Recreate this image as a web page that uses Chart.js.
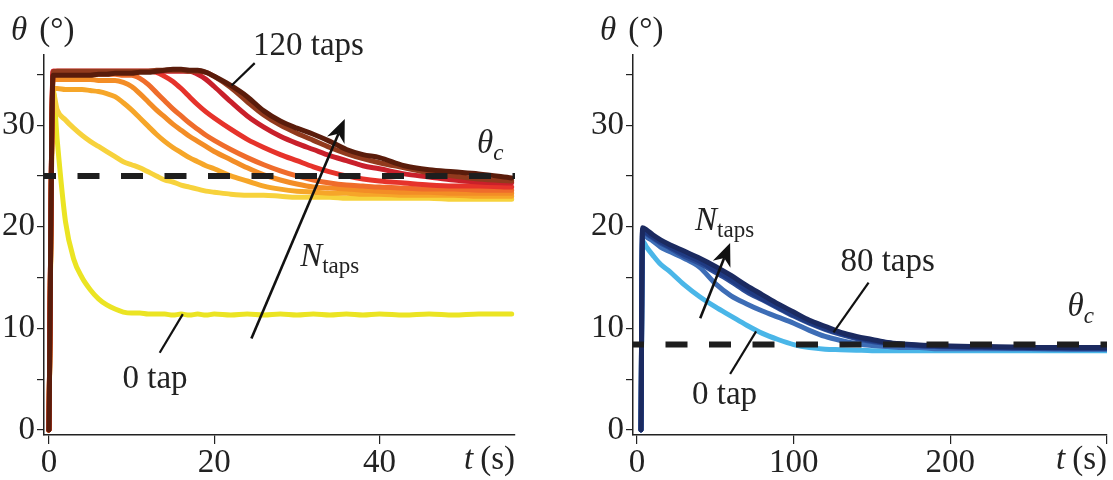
<!DOCTYPE html>
<html>
<head>
<meta charset="utf-8">
<script src="https://cdn.jsdelivr.net/npm/chart.js@4.4.1/dist/chart.umd.min.js"></script>
<style>
    body { margin: 0; background: #ffffff; }
    #wrap { position: relative; width: 1113px; height: 480px; overflow: hidden; }
    canvas { position: absolute; top: 0; }
</style>
</head>
<body>
<div id="wrap">
    <canvas id="leftChart" width="556" height="480" style="left:0;width:556px;height:480px"></canvas>
    <canvas id="rightChart" width="557" height="480" style="left:556px;width:557px;height:480px"></canvas>
</div>
<script>
/* theta(t) relaxation curves - two panels */

// ---- Left panel: time grid (s) and one theta series (deg) per tap count ----
const tLeft = [
    0, 0.5, 1,
    2, 3, 4, 5, 6, 7, 8, 9, 10, 11, 12, 13, 14, 15, 16, 17, 18, 19, 20,
    22, 24, 26, 28, 30, 32, 34, 36, 38, 40,
    43, 46, 49, 52, 56
];
const left0 = [
    0, 33.5, 28.5,
    20.5, 16.8, 15.0, 13.8, 12.9, 12.3, 11.9, 11.6, 11.5, 11.5, 11.4, 11.4, 11.4, 11.3, 11.4, 11.3, 11.4, 11.3, 11.4,
    11.3, 11.4, 11.3, 11.4, 11.3, 11.4, 11.3, 11.4, 11.3, 11.4,
    11.3, 11.4, 11.3, 11.4, 11.4
];
const left1 = [
    0, 33.2, 31.5,
    30.5, 29.7, 29.0, 28.4, 27.9, 27.4, 26.9, 26.4, 26.1, 25.8, 25.4, 25.0, 24.6, 24.4, 24.1, 23.9, 23.7, 23.5, 23.4,
    23.2, 23.1, 23.1, 23.0, 22.9, 22.9, 22.9, 22.8, 22.8, 22.8,
    22.8, 22.8, 22.7, 22.7, 22.7
];
const left2 = [
    0, 33.6, 33.6,
    33.5, 33.5, 33.5, 33.4, 33.3, 33.1, 32.8, 32.2, 31.5, 30.7, 29.9, 29.1, 28.4, 27.8, 27.3, 26.8, 26.4, 26.0, 25.7,
    25.0, 24.5, 24.0, 23.7, 23.5, 23.4, 23.3, 23.3, 23.2, 23.2,
    23.1, 23.1, 23.1, 23.0, 23.0
];
const left3 = [
    0, 34.5, 34.5,
    34.5, 34.5, 34.5, 34.5, 34.4, 34.4, 34.4, 34.2, 33.8, 33.1, 32.3, 31.5, 30.8, 30.1, 29.5, 28.9, 28.4, 27.9, 27.4,
    26.6, 25.8, 25.1, 24.6, 24.2, 23.9, 23.8, 23.7, 23.6, 23.5,
    23.4, 23.4, 23.3, 23.3, 23.3
];
const left4 = [
    0, 35.0, 35.0,
    35.0, 35.0, 35.0, 35.0, 35.0, 35.0, 35.0, 34.9, 34.9, 34.6, 34.0, 33.2, 32.4, 31.6, 30.9, 30.2, 29.6, 29.0, 28.5,
    27.6, 26.8, 26.1, 25.5, 25.0, 24.6, 24.3, 24.1, 24.0, 23.9,
    23.8, 23.7, 23.7, 23.6, 23.6
];
const left5 = [
    0, 35.3, 35.3,
    35.3, 35.3, 35.3, 35.3, 35.3, 35.3, 35.3, 35.3, 35.3, 35.3, 35.3, 35.2, 34.8, 34.3, 33.6, 32.8, 32.0, 31.3, 30.7,
    29.6, 28.6, 27.8, 27.1, 26.5, 25.9, 25.4, 25.0, 24.7, 24.5,
    24.3, 24.1, 24.0, 24.0, 23.9
];
const left6 = [
    0, 35.3, 35.3,
    35.3, 35.3, 35.3, 35.3, 35.3, 35.3, 35.3, 35.3, 35.3, 35.3, 35.3, 35.3, 35.3, 35.3, 35.3, 35.3, 35.0, 34.5, 33.8,
    32.3, 30.9, 29.8, 28.9, 28.2, 27.6, 27.0, 26.5, 26.0, 25.7,
    25.2, 24.9, 24.6, 24.4, 24.3
];
const left7 = [
    0, 35.2, 35.3,
    35.3, 35.3, 35.3, 35.3, 35.3, 35.3, 35.3, 35.3, 35.3, 35.3, 35.3, 35.4, 35.4, 35.4, 35.4, 35.3, 35.3, 35.2, 34.8,
    33.7, 32.3, 31.0, 30.0, 29.2, 28.5, 27.8, 27.2, 26.7, 26.3,
    25.8, 25.3, 25.0, 24.7, 24.5
];
const left8 = [
    0, 34.9, 34.9,
    34.9, 34.9, 34.9, 34.9, 35.0, 35.0, 35.1, 35.1, 35.1, 35.2, 35.2, 35.3, 35.4, 35.5, 35.5, 35.4, 35.4, 35.2, 34.8,
    33.9, 32.8, 31.4, 30.4, 29.7, 29.1, 28.4, 27.6, 27.1, 26.8,
    26.0, 25.6, 25.4, 25.2, 24.8
];
const leftSeries = [left0, left1, left2, left3, left4, left5, left6, left7, left8];
const leftColors = ['#ebe423', '#f7d23c', '#f6a629', '#f38d26', '#ef6c2b', '#e6332b', '#c9202b', '#923a1d', '#5a1c0b'];
const thetaCLeft = 25;

// ---- Right panel ----
const tRight = [
    2.5, 3.5, 6, 10, 15, 20,
    30, 40, 50, 60, 70, 80, 90, 100, 110, 120, 130, 140, 150, 160, 170, 180, 190, 200,
    220, 240, 260, 280, 300
];
const right0 = [
    0, 18.6, 18.0, 17.2, 16.3, 15.7,
    14.3, 13.1, 12.1, 11.2, 10.3, 9.5, 8.9, 8.4, 8.1, 7.95, 7.9, 7.85, 7.8, 7.8, 7.8, 7.8, 7.8, 7.8,
    7.8, 7.8, 7.8, 7.8, 7.8
];
const right1 = [
    0, 19.3, 19.0, 18.6, 18.0, 17.6,
    16.9, 16.0, 14.4, 13.2, 12.4, 11.7, 11.1, 10.5, 9.8, 9.2, 8.8, 8.5, 8.3, 8.2, 8.1, 8.1, 8.0, 8.0,
    8.0, 8.0, 8.0, 7.95, 7.95
];
const right2 = [
    0, 19.6, 19.3, 18.9, 18.4, 18.0,
    17.1, 16.4, 15.5, 14.6, 13.6, 12.8, 12.0, 11.2, 10.5, 9.9, 9.4, 9.0, 8.7, 8.5, 8.35, 8.25, 8.2, 8.15,
    8.1, 8.05, 8.0, 8.0, 8.0
];
const right3 = [
    0, 19.7, 19.4, 19.0, 18.5, 18.1,
    17.3, 16.6, 15.7, 14.8, 13.8, 12.9, 12.1, 11.3, 10.6, 10.0, 9.5, 9.1, 8.8, 8.55, 8.4, 8.3, 8.25, 8.2,
    8.15, 8.1, 8.1, 8.05, 8.05
];
const right4 = [
    0, 19.9, 19.7, 19.2, 18.7, 18.3,
    17.6, 16.9, 16.1, 15.2, 14.2, 13.3, 12.4, 11.6, 10.8, 10.2, 9.6, 9.2, 8.9, 8.6, 8.45, 8.35, 8.3, 8.25,
    8.2, 8.15, 8.1, 8.1, 8.1
];
const rightSeries = [right0, right1, right2, right3, right4];
const rightColors = ['#4ab6e8', '#3d6db6', '#2b4c96', '#1f3a82', '#1b2a60'];
const thetaCRight = 8.4;

// ticks
const yTicks = [0, 5, 10, 15, 20, 25, 30, 35];
const xTicksLeft = [0, 20, 40];
const xTicksRight = [0, 100, 200, 300];

// annotations (data units)
const leftNotes = {
    lines: [[[24.9, 36.1], [22.1, 33.9]], [[13.4, 7.6], [16.2, 11.4]]],
    arrows: [[[24.5, 9.0], [35.8, 30.6]]],
    labels: [
        { parts: [{ t: '120 taps' }], x: 24.7, y: 36.9 },
        { parts: [{ t: 'N', italic: true }, { t: 'taps', sub: true }], x: 30.4, y: 16.1 },
        { parts: [{ t: '0 tap' }], x: 8.9, y: 4.1 },
        { parts: [{ t: 'θ', italic: true }, { t: 'c', italic: true, sub: true }], x: 51.8, y: 27.3 }
    ]
};
const rightNotes = {
    lines: [[[147.8, 14.5], [125.4, 9.6]], [[59.4, 5.5], [76, 9.7]]],
    arrows: [[[40.3, 11.0], [59.4, 18.4]]],
    labels: [
        { parts: [{ t: 'N', italic: true }, { t: 'taps', sub: true }], x: 37, y: 19.7 },
        { parts: [{ t: '80 taps' }], x: 129.8, y: 15.6 },
        { parts: [{ t: '0 tap' }], x: 35.1, y: 2.6 },
        { parts: [{ t: 'θ', italic: true }, { t: 'c', italic: true, sub: true }], x: 274.8, y: 11.2 }
    ]
};

const SERIF = "'Liberation Serif', 'DejaVu Serif', serif";
const INK = '#222222';
const FONT_SIZE = 33;
const SUB_SIZE = 23;

function pts(ts, vs) {
    return ts.map((t, i) => ({ x: t, y: vs[i] }));
}

// draws text made of parts (italic / subscript) starting at x, baseline y
function drawParts(ctx, parts, x, y, align) {
    const fontOf = p => (p.italic ? 'italic ' : '') + (p.sub ? SUB_SIZE : FONT_SIZE) + 'px ' + SERIF;
    let total = 0;
    parts.forEach(p => { ctx.font = fontOf(p); total += ctx.measureText(p.t).width + (p.gap || 0); });
    let cx = align === 'right' ? x - total : x;
    ctx.textAlign = 'left';
    ctx.textBaseline = 'alphabetic';
    parts.forEach(p => {
        ctx.font = fontOf(p);
        ctx.fillText(p.t, cx + (p.gap || 0), p.sub ? y + 7 : y);
        cx += ctx.measureText(p.t).width + (p.gap || 0);
    });
}

const notesPlugin = {
    id: 'notes',
    afterDatasetsDraw(chart, args, opts) {
        const { ctx, chartArea } = chart;
        const sx = chart.scales.x, sy = chart.scales.y;
        const px = p => ({ x: sx.getPixelForValue(p[0]), y: sy.getPixelForValue(p[1]) });
        const n = opts.notes;
        ctx.save();
        ctx.strokeStyle = '#111';
        ctx.fillStyle = '#111';
        ctx.lineCap = 'butt';

        n.lines.forEach(([a, b]) => {
            const p0 = px(a), p1 = px(b);
            ctx.lineWidth = 2.2;
            ctx.beginPath();
            ctx.moveTo(p0.x, p0.y);
            ctx.lineTo(p1.x, p1.y);
            ctx.stroke();
        });

        n.arrows.forEach(([a, b]) => {
            const p0 = px(a), p1 = px(b);
            const ang = Math.atan2(p1.y - p0.y, p1.x - p0.x);
            const c = Math.cos(ang), s = Math.sin(ang);
            const L = 23, W = 9.5;
            ctx.lineWidth = 2.6;
            ctx.beginPath();
            ctx.moveTo(p0.x, p0.y);
            ctx.lineTo(p1.x - c * L * 0.7, p1.y - s * L * 0.7);
            ctx.stroke();
            ctx.beginPath();
            ctx.moveTo(p1.x, p1.y);
            ctx.lineTo(p1.x - c * L - s * W, p1.y - s * L + c * W);
            ctx.lineTo(p1.x - c * L * 0.7, p1.y - s * L * 0.7);
            ctx.lineTo(p1.x - c * L + s * W, p1.y - s * L - c * W);
            ctx.closePath();
            ctx.fill();
        });

        ctx.fillStyle = INK;
        n.labels.forEach(l => {
            const p = px([l.x, l.y]);
            drawParts(ctx, l.parts, p.x, p.y, 'left');
        });

        // axis titles
        drawParts(ctx, [{ t: 'θ', italic: true }, { t: '(°)', gap: 12 }], chartArea.left - 33, chartArea.top - 15, 'left');
        drawParts(ctx, [{ t: 't', italic: true }, { t: '(s)', gap: 7 }], chartArea.right, chartArea.bottom + 34, 'right');
        ctx.restore();
    }
};

function makeConfig(ts, series, colors, thetaC, xMin, xMax, xTicks, yWidth, padRight, notes, dashOffset) {
    const datasets = [{
        data: [{ x: xMin, y: thetaC }, { x: xMax, y: thetaC }],
        borderColor: '#1e1e1e',
        borderWidth: 6,
        borderDash: [22, 21.5],
        borderDashOffset: dashOffset,
        borderCapStyle: 'butt',
        order: 0
    }];
    series.forEach((vals, i) => {
        datasets.push({
            data: pts(ts, vals),
            borderColor: colors[i],
            borderWidth: 5,
            borderCapStyle: 'round',
            borderJoinStyle: 'round',
            cubicInterpolationMode: 'monotone',
            order: series.length - i
        });
    });

    return {
        type: 'line',
        data: { datasets: datasets },
        options: {
            responsive: false,
            animation: false,
            devicePixelRatio: 1,
            layout: { padding: { top: 55, right: padRight, left: 0, bottom: 0 } },
            elements: { point: { radius: 0 } },
            plugins: {
                legend: { display: false },
                tooltip: { enabled: false },
                notes: { notes: notes }
            },
            scales: {
                x: {
                    type: 'linear',
                    min: xMin,
                    max: xMax,
                    afterBuildTicks: axis => { axis.ticks = xTicks.map(v => ({ value: v })); },
                    afterFit: axis => { axis.height = 45; },
                    grid: { drawOnChartArea: false, drawTicks: true, tickLength: 9, color: INK, lineWidth: 1.2 },
                    border: { color: INK, width: 1.5 },
                    ticks: {
                        autoSkip: false,
                        maxRotation: 0,
                        padding: 0,
                        color: INK,
                        font: { family: SERIF, size: FONT_SIZE },
                        callback: v => (v === 300 ? '' : String(v))
                    }
                },
                y: {
                    type: 'linear',
                    min: -0.5,
                    max: 36.9,
                    afterBuildTicks: axis => { axis.ticks = yTicks.map(v => ({ value: v })); },
                    afterFit: axis => { axis.width = yWidth; },
                    grid: { drawOnChartArea: false, drawTicks: true, tickLength: 7, color: INK, lineWidth: 1.2 },
                    border: { color: INK, width: 1.5 },
                    ticks: {
                        autoSkip: false,
                        padding: 2,
                        color: INK,
                        font: { family: SERIF, size: FONT_SIZE },
                        callback: v => (v % 10 === 0 ? String(v) : '')
                    }
                }
            }
        },
        plugins: [notesPlugin]
    };
}

new Chart(document.getElementById('leftChart'),
    makeConfig(tLeft, leftSeries, leftColors, thetaCLeft, -0.6, 56.4, xTicksLeft, 44, 41, leftNotes, 10));
new Chart(document.getElementById('rightChart'),
    makeConfig(tRight, rightSeries, rightColors, thetaCRight, -2.6, 300, xTicksRight, 77, 6, rightNotes, 11));
</script>
</body>
</html>
